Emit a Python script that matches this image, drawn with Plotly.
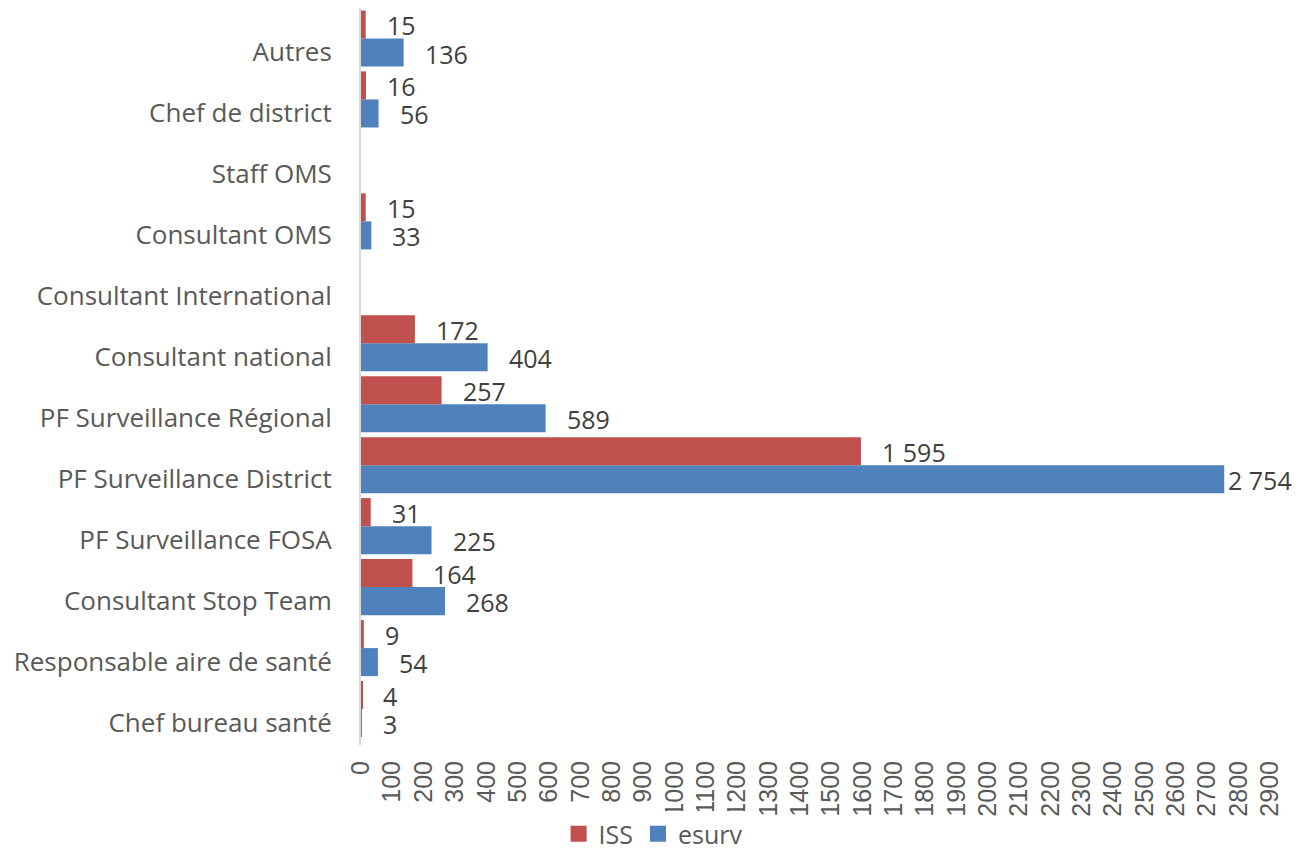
import plotly.graph_objects as go

# Profiles, listed bottom to top as they appear on the chart
categories = [
    "Chef bureau santé",
    "Responsable aire de santé",
    "Consultant Stop Team",
    "PF Surveillance FOSA",
    "PF Surveillance District",
    "PF Surveillance Régional",
    "Consultant national",
    "Consultant International",
    "Consultant OMS",
    "Staff OMS",
    "Chef de district",
    "Autres",
]
iss = [4, 9, 164, 31, 1595, 257, 172, None, 15, None, 16, 15]
esurv = [3, 54, 268, 225, 2754, 589, 404, None, 33, None, 56, 136]
x_ticks = list(range(0, 3000, 100))

RED = "#C0504D"
BLUE = "#4F81BD"
GREY = "#595959"
LABEL_FONT = "'Open Sans', 'Noto Sans', sans-serif"
TICK_FONT = "'Liberation Sans', Arial, sans-serif"

pos = list(range(len(categories)))
BAR_HALF = 0.23  # centre offset of each bar inside its group


def fmt(v):
    return f"{v:,}".replace(",", " ")


fig = go.Figure()
fig.add_trace(go.Bar(
    name="esurv", y=pos, x=esurv, orientation="h",
    marker=dict(color=BLUE, line=dict(width=0)), showlegend=False,
))
fig.add_trace(go.Bar(
    name="ISS", y=pos, x=iss, orientation="h",
    marker=dict(color=RED, line=dict(width=0)), showlegend=False,
))

# legend keys drawn as larger square swatches
for name, color in (("ISS", RED), ("esurv", BLUE)):
    fig.add_trace(go.Scatter(
        name=name, x=[None], y=[None], mode="markers",
        marker=dict(symbol="square", size=16, color=color),
        showlegend=True, hoverinfo="skip",
    ))

# value labels just past the end of each bar
top = max(v for v in esurv if v is not None)
annotations = []
for values, dy in ((iss, BAR_HALF), (esurv, -BAR_HALF)):
    for i, v in zip(pos, values):
        if v is None:
            continue
        annotations.append(dict(
            x=v, y=i + dy, xref="x", yref="y", text=fmt(v),
            showarrow=False, xanchor="left", yanchor="middle",
            xshift=2 if v == top else 19, yshift=-1,
            font=dict(family=LABEL_FONT, size=25, color="#404040"),
        ))

fig.update_layout(
    width=1301, height=857,
    margin=dict(l=361, r=31, t=8, b=112, autoexpand=False),
    paper_bgcolor="white", plot_bgcolor="white",
    barmode="group", bargap=0.08, bargroupgap=0,
    annotations=annotations,
    showlegend=True,
    legend=dict(
        orientation="h", xref="container", yref="container",
        x=0.502, xanchor="center", y=0.0, yanchor="bottom",
        font=dict(family=LABEL_FONT, size=25, color=GREY),
        itemwidth=30, tracegroupgap=0,
    ),
    xaxis=dict(
        range=[0, 2900], tickvals=x_ticks, tickangle=-90,
        showgrid=False, zeroline=False, showline=False,
        ticks="", ticklabelstandoff=10, automargin=False,
        tickfont=dict(family=TICK_FONT, size=25, color=GREY),
    ),
    yaxis=dict(
        range=[-0.59, 11.5],
        tickvals=[p - 0.22 for p in pos], ticktext=categories,
        showgrid=False, zeroline=False,
        showline=True, linecolor="#D9D9D9", linewidth=2,
        ticks="", ticklabelstandoff=22, automargin=False,
        tickfont=dict(family=LABEL_FONT, size=26, color=GREY),
    ),
)

fig.write_html("out.html")
